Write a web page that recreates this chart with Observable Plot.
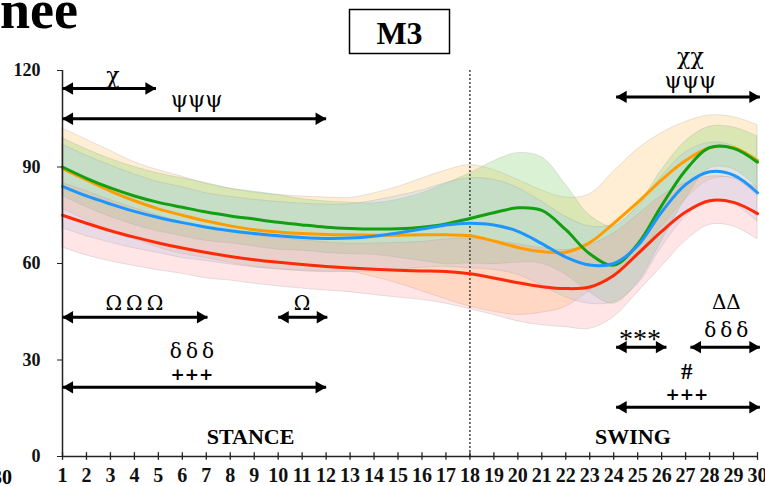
<!DOCTYPE html>
<html><head><meta charset="utf-8">
<script src="https://cdn.jsdelivr.net/npm/d3@7"></script>
<script src="https://cdn.jsdelivr.net/npm/@observablehq/plot@0.6"></script>
<style>
body{margin:0;background:#fff;}
#chart{position:relative;width:765px;height:486px;overflow:hidden;}
</style>
</head><body><div id="chart"></div>
<script>
// gait cycle points
const cycle = d3.range(1, 31);
// mean knee angles (deg)
const greenMean  = [90, 86.5, 83.5, 81, 79, 77.5, 76, 74.8, 73.8, 72.8, 72, 71.3, 70.9, 70.7, 70.8, 71.3, 72.3, 74, 75.8, 77.3, 76.5, 70.5, 63, 59.5, 66, 78, 89, 96, 95.8, 91.5];
const orangeMean = [89.5, 86, 82.5, 79.5, 77, 75, 73.2, 71.7, 70.5, 69.8, 69.3, 69, 68.9, 68.8, 68.8, 68.9, 68.9, 68.6, 67, 65, 63.7, 63.5, 66.5, 72.5, 79, 86, 92, 96, 96, 92];
const blueMean   = [84, 81, 78.5, 76.2, 74.3, 72.7, 71.3, 70.2, 69.3, 68.6, 68.1, 67.8, 67.9, 68.5, 69.5, 70.7, 72, 72.5, 72, 70, 66.2, 62, 59.5, 60, 65.5, 76, 84.5, 88.5, 87.5, 82];
const redMean    = [75, 72.5, 70.2, 68.2, 66.4, 64.8, 63.4, 62.2, 61.2, 60.4, 59.7, 59.1, 58.6, 58.2, 57.9, 57.7, 57.5, 56.8, 55.5, 54, 52.8, 52.2, 52.7, 56.3, 63, 70, 76, 79.5, 79, 75.5];
// standard deviations
const greenSd  = [9, 9, 9, 9, 9, 9, 9, 8.5, 8.5, 8.5, 8, 8, 8, 8, 9, 10.5, 12.5, 14, 16, 17, 16.5, 14, 12, 12, 12, 11, 9, 6.5, 6.5, 8];
const orangeSd = [12.5, 12.5, 12.5, 12, 12, 12, 11.5, 11.5, 11.5, 11.5, 11.5, 11.5, 11.5, 13, 15, 17.5, 20, 22, 22, 21, 19, 17, 15, 16, 16.5, 14.5, 12, 10, 9.5, 11];
const blueSd   = [13, 12.5, 12, 11.5, 11, 11, 10.5, 10.5, 10.5, 10.5, 10.5, 10.5, 10.5, 11, 11.5, 12, 13, 14, 14, 13.5, 13, 12.5, 12, 12, 12, 11, 10, 9, 9, 9];
const redSd    = [10, 10, 9.5, 9, 8.5, 8, 8, 7.5, 7.5, 7.5, 7.5, 7.5, 7.5, 8, 8.5, 9, 10, 11, 11.5, 12, 12, 12, 13, 13, 12, 11, 9, 7.5, 7.5, 8];

const yTicks = [0, 30, 60, 90, 120];
const phaseSplit = 18;

// significance arrows (data units)
const arrowFrom = [1, 1, 24.1, 1, 10, 1, 24.1, 27.2, 24.1];
const arrowTo   = [4.9, 12, 30.1, 7.05, 12.05, 12, 26.2, 30.1, 30.1];
const arrowAt   = [114.4, 105, 111.8, 43.3, 43.3, 21.5, 34, 34, 15.3];

// arrow labels
const chiPsiText = ["χ", "ψψψ", "χχ", "ψψψ"];
const chiPsiX    = [3.1, 6.6, 27.2, 27.2];
const chiPsiY    = [118.4, 110.8, 124.2, 116.8];
const greekText  = ["Ω\u2009Ω\u2009Ω", "Ω", "δ\u2009δ\u2009δ", "ΔΔ", "δ\u2009δ\u2009δ"];
const greekX     = [4, 11, 6.4, 28.7, 28.7];
const greekY     = [47.5, 47.5, 32.6, 48, 39.2];
const starText   = ["***"];
const starX      = [25.1];
const starY      = [36.6];
const plusText   = ["+++", "+++"];
const plusX      = [6.4, 27.05];
const plusY      = [25.6, 19.2];
const hashText   = ["#"];
const hashX      = [27.05];
const hashY      = [26.4];

const phaseText = ["STANCE", "SWING"];
const phaseX    = [8.85, 24.8];
const phaseY    = [6.2, 6.2];

const groups = [
  {name: "orange", mean: orangeMean, sd: orangeSd, line: "#ff9c00", band: "#ffc66e", op: 0.3},
  {name: "green",  mean: greenMean,  sd: greenSd,  line: "#12a012", band: "#86d46e", op: 0.3},
  {name: "blue",   mean: blueMean,   sd: blueSd,   line: "#1e96ff", band: "#8cc6ff", op: 0.24},
  {name: "red",    mean: redMean,    sd: redSd,    line: "#ff2a0a", band: "#ff8a8a", op: 0.22}
];
const rows = g => cycle.map((x, i) => ({x, mean: g.mean[i], lo: g.mean[i] - g.sd[i], hi: g.mean[i] + g.sd[i]}));
const zipText = (t, x, y) => t.map((s, i) => ({t: s, x: x[i], y: y[i]}));

const arrows = arrowFrom.map((a, i) => ({a, b: arrowTo[i], y: arrowAt[i]}));

const serif = "'Liberation Serif', 'Times New Roman', serif";
const greekFont = "'DejaVu Serif', 'Liberation Serif', serif";

const chart = Plot.plot({
  width: 765, height: 486,
  marginLeft: 62, marginRight: 8, marginTop: 70, marginBottom: 30,
  x: {domain: [1, 30]},
  y: {domain: [0, 120]},
  style: {fontFamily: serif, fontWeight: "bold", color: "#111", background: "transparent"},
  marks: [
    ...groups.map(g => Plot.areaY(rows(g), {x: "x", y1: "lo", y2: "hi", fill: g.band, fillOpacity: g.op, stroke: "#999", strokeOpacity: 0.25, strokeWidth: 1, curve: "catmull-rom"})),
    Plot.ruleX([phaseSplit], {y1: 0, y2: 120, stroke: "#444", strokeWidth: 1.5, strokeDasharray: "2,2"}),
    ...groups.map(g => Plot.line(rows(g), {x: "x", y: "mean", stroke: g.line, strokeWidth: 3, curve: "catmull-rom"})),
    Plot.ruleY([0], {x1: 1, x2: 30, stroke: "#222", strokeWidth: 1.5}),
    Plot.ruleX([1], {y1: 0, y2: 120, stroke: "#222", strokeWidth: 1.5}),
    Plot.ruleX(cycle, {y1: -1.2, y2: 1.2, stroke: "#222", strokeWidth: 1.3}),
    Plot.axisY(yTicks, {tickSize: 5, tickPadding: 17, fontSize: 18, label: null, stroke: "#222"}),
    Plot.axisX(cycle, {tickSize: 0, tickPadding: 11, fontSize: 20, label: null}),
    Plot.link(arrows, {x1: "a", x2: "b", y1: "y", y2: "y", stroke: "#000", strokeWidth: 3}),
    Plot.dot(arrows, {x: "a", y: "y", symbol: "triangle", r: 4.6, rotate: -90, fill: "#000", dx: 7}),
    Plot.dot(arrows, {x: "b", y: "y", symbol: "triangle", r: 4.6, rotate: 90, fill: "#000", dx: -7}),
    Plot.text(zipText(chiPsiText, chiPsiX, chiPsiY), {x: "x", y: "y", text: "t", fontSize: 22, fontWeight: "normal", fontFamily: greekFont, fill: "#000"}),
    Plot.text(zipText(greekText, greekX, greekY), {x: "x", y: "y", text: "t", fontSize: 20, fontWeight: "normal", fontFamily: greekFont, fill: "#000"}),
    Plot.text(zipText(starText, starX, starY), {x: "x", y: "y", text: "t", fontSize: 28, fontWeight: "normal", fill: "#000"}),
    Plot.text(zipText(plusText, plusX, plusY), {x: "x", y: "y", text: "t", fontSize: 17, fontWeight: "bold", fontFamily: greekFont, fill: "#000"}),
    Plot.text(zipText(hashText, hashX, hashY), {x: "x", y: "y", text: "t", fontSize: 23, fontWeight: "bold", fill: "#000"}),
    Plot.text(zipText(phaseText, phaseX, phaseY), {x: "x", y: "y", text: "t", fontSize: 22, fontWeight: "bold", fill: "#000"})
  ]
});

const svg = d3.select(chart);
svg.append("text").attr("x", -42).attr("y", 28).attr("text-anchor", "start")
  .attr("font-family", serif).attr("font-weight", "bold")
  .attr("font-size", 54).attr("fill", "#000").text("Knee");
svg.append("rect").attr("x", 349.5).attr("y", 9.5).attr("width", 100).attr("height", 44)
  .attr("fill", "none").attr("stroke", "#000").attr("stroke-width", 1.5);
svg.append("text").attr("x", 399.5).attr("y", 44).attr("text-anchor", "middle")
  .attr("font-family", serif).attr("font-weight", "bold")
  .attr("font-size", 32).attr("fill", "#000").text("M3");
svg.append("text").attr("x", 12).attr("y", 484).attr("text-anchor", "end")
  .attr("font-family", serif).attr("font-weight", "bold")
  .attr("font-size", 20).attr("fill", "#000").text("30");

document.getElementById("chart").appendChild(chart);
</script>
</body></html>
